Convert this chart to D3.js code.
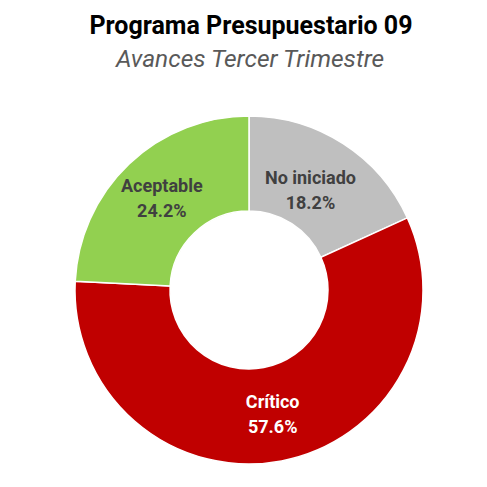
<!DOCTYPE html>
<html>
<head>
<meta charset="utf-8">
<script src="https://cdn.jsdelivr.net/npm/d3@7"></script>
<style>
  body { margin: 0; background: #fff; }
  svg { display: block; }
</style>
</head>
<body>
<svg id="chart"></svg>
<script>
var width = 487, height = 487;

// data
var categories = ["No iniciado", "Crítico", "Aceptable"];
var values = [18.2, 57.6, 24.2];
var colors = ["#BFBFBF", "#C00000", "#92D050"];
var labelColors = ["#404040", "#FFFFFF", "#404040"];

var svg = d3.select("#chart").attr("width", width).attr("height", height);

svg.append("text")
  .attr("x", 251).attr("y", 34)
  .attr("text-anchor", "middle")
  .style("font-family", "Roboto, sans-serif")
  .style("font-weight", "bold")
  .style("font-size", "25px")
  .attr("fill", "#000")
  .text("Programa Presupuestario 09");

svg.append("text")
  .attr("x", 250).attr("y", 67)
  .attr("text-anchor", "middle")
  .style("font-family", "Roboto, sans-serif")
  .style("font-style", "italic")
  .style("font-size", "24.5px")
  .attr("fill", "#595959")
  .text("Avances Tercer Trimestre");

var cx = 249, cy = 290, outerR = 174, innerR = 79;

var pie = d3.pie().sort(null).value(function(d){ return d; });
var arc = d3.arc().innerRadius(innerR).outerRadius(outerR);

var g = svg.append("g").attr("transform", "translate(" + cx + "," + cy + ")");
var arcs = pie(values);

g.selectAll("path.slice")
  .data(arcs)
  .enter().append("path")
  .attr("class", "slice")
  .attr("d", arc)
  .attr("fill", function(d, i){ return colors[i]; })
  .attr("stroke", "#fff")
  .attr("stroke-width", 1.5);

var labels = g.selectAll("text.lbl")
  .data(arcs)
  .enter().append("text")
  .attr("class", "lbl")
  .attr("transform", function(d, i){
    var c = arc.centroid(d);
    // excel nudges the small top slice label a bit inwards
    if (i === 0) { c[0] -= 7; c[1] += 6; }
    return "translate(" + c[0] + "," + c[1] + ")";
  })
  .attr("text-anchor", "middle")
  .style("font-family", "Roboto, sans-serif")
  .style("font-weight", "bold")
  .style("font-size", "18px")
  .attr("fill", function(d, i){ return labelColors[i]; });

labels.append("tspan").attr("x", 0).attr("y", -6).text(function(d, i){ return categories[i]; });
labels.append("tspan").attr("x", 0).attr("y", 19).text(function(d, i){ return values[i].toFixed(1) + "%"; });
</script>
</body>
</html>
